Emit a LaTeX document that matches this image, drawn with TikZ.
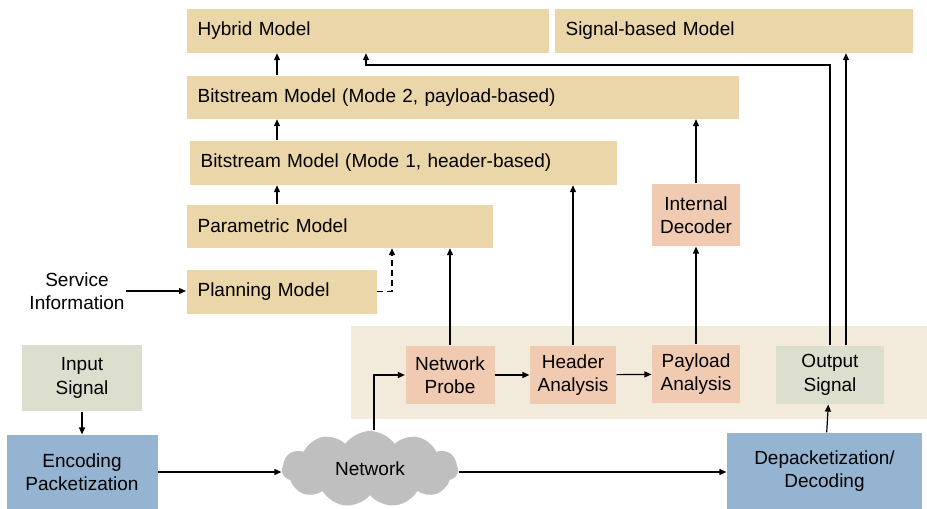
\documentclass[tikz,border=0pt]{standalone}
\usepackage{fontspec}
\setmainfont{Liberation Sans}
\usepackage{tikz}
\usetikzlibrary{arrows.meta,shapes,shapes.symbols}
\usetikzlibrary{calc}

\definecolor{modelc}{RGB}{234,214,168}
\definecolor{procc}{RGB}{240,203,178}
\definecolor{sigc}{RGB}{220,222,206}
\definecolor{codec}{RGB}{148,180,210}
\definecolor{probec}{RGB}{242,234,218}
\definecolor{netc}{RGB}{191,191,191}

\begin{document}
\begin{tikzpicture}[x=1pt,y=-1pt,->,>={Triangle[length=7pt,width=6pt]},line width=1.2pt,
        font=\fontsize{19}{23.5}\selectfont,
        model/.style={fill=modelc,anchor=north west,align=left,inner xsep=11pt,inner ysep=0pt,minimum height=44pt},
        proc/.style={fill=procc,align=center,inner sep=0pt,minimum width=88pt,minimum height=58pt},
        sig/.style={fill=sigc,align=center,inner sep=0pt},
        codec/.style={fill=codec,align=center,inner sep=0pt}]
        \useasboundingbox (0,0) rectangle (927,509);
        \fill[probec] (351,326) rectangle (927,419);
        % models
        \node[model,text width=340pt]  (hyb)    at (186,8)   {Hybrid Model};
        \node[model,text width=336pt]  (sigmod) at (554,8)   {Signal-based Model};
        \node[model,text width=530pt,minimum height=43pt] (bs2) at (186,75) {Bitstream Model (Mode 2, payload-based)};
        \node[model,text width=405pt]  (bs1)    at (189,140) {Bitstream Model (Mode 1, header-based)};
        \node[model,text width=284pt,minimum height=43pt] (param) at (186,204) {Parametric Model};
        \node[model,text width=168pt]  (plan)   at (186,269) {Planning Model};
        \node[align=center,inner sep=1pt] (svc) at (77,291) {Service\\Information};
        % processing chain
        \node[proc,minimum height=62pt] (dec) at (696,215) {Internal\\Decoder};
        \node[proc,minimum width=89pt]  (probe)   at (450,375) {Network\\Probe};
        \node[proc,minimum width=86pt]  (header)  at (573,375) {Header\\Analysis};
        \node[proc]                     (payload) at (696,374) {Payload\\Analysis};
        \node[sig,minimum width=108pt,minimum height=58pt] (outsig) at (830,375) {Output\\Signal};
        \node[sig,minimum width=120pt,minimum height=66pt] (insig)  at (82,378)  {Input\\Signal};
        \node[codec,minimum width=151pt,minimum height=74pt] (enc)  at (82,472)  {Encoding\\Packetization};
        \node[codec,minimum width=195pt,minimum height=76pt] (depack) at (824.5,471) {Depacketization/\\Decoding};
        \node[cloud,cloud puffs=11,cloud puff arc=110,aspect=2.3,fill=netc,
              minimum width=176pt,minimum height=76pt,inner sep=0pt] (net) at (370,469) {Network};
        \coordinate (spine) at (277,0);
        \coordinate (turn)  at (366,65);
        \coordinate (dash)  at (392,0);
        \path
          (insig) edge (enc)
          (enc) edge (enc.east -| net.west)
          (net.east |- 0,472) edge (depack.west |- 0,472)
          (probe) edge (header)
          (header) edge (payload)
          (depack) edge (outsig)
          (probe) edge (probe |- param.south)
          (header) edge (header |- bs1.south)
          (payload) edge (dec)
          (dec) edge (dec |- bs2.south)
          (spine |- param.north) edge (spine |- bs1.south)
          (spine |- bs1.north) edge (spine |- bs2.south)
          (spine |- bs2.north) edge (spine |- hyb.south)
          (svc.east) edge (svc.east -| plan.west)
          ;
        \draw ([xshift=4pt]net.north) |- (probe.west);
        \draw (outsig.north) |- (turn) -- (turn |- hyb.south);
        \draw ([xshift=16pt]outsig.north) -- ([xshift=16pt]outsig.north |- sigmod.south);
        \draw[dash pattern=on 6pt off 4pt] (plan.east) -| (dash |- param.south);
      \end{tikzpicture}
\end{document}
